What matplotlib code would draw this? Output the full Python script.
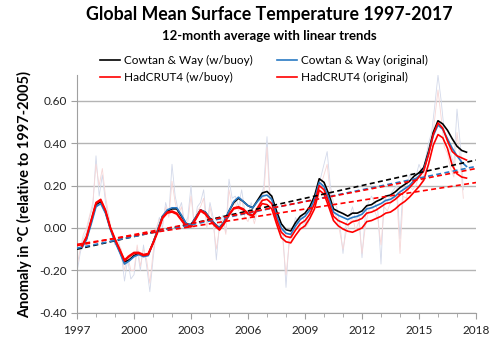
import matplotlib
matplotlib.use("Agg")
import matplotlib.pyplot as plt
from matplotlib.ticker import FormatStrFormatter, MultipleLocator
import numpy as np

plt.rcParams['font.family'] = ['Lato', 'DejaVu Sans']

# 12-month running means, every quarter from 1997.25
cw_buoy = [-0.09, -0.05, 0.03,
           0.11, 0.125, 0.075, 0.0,
           -0.06, -0.11, -0.16, -0.15,
           -0.13, -0.12, -0.13, -0.125,
           -0.07, -0.01, 0.055, 0.08,
           0.09, 0.09, 0.055, 0.02,
           0.015, 0.05, 0.085, 0.075,
           0.045, 0.02, 0.0, 0.03,
           0.08, 0.12, 0.14, 0.125,
           0.105, 0.095, 0.13, 0.165,
           0.172, 0.15, 0.08, 0.02,
           -0.008, -0.014, 0.025, 0.055,
           0.07, 0.10, 0.15, 0.232,
           0.215, 0.16, 0.09, 0.078,
           0.068, 0.056, 0.07, 0.07,
           0.08, 0.105, 0.11, 0.125,
           0.135, 0.15, 0.155, 0.17,
           0.19, 0.205, 0.22, 0.245,
           0.26, 0.285, 0.36, 0.45,
           0.505, 0.49, 0.46, 0.42,
           0.385, 0.365, 0.357]
cw_orig = [-0.095, -0.055, 0.02,
           0.10, 0.115, 0.07, -0.005,
           -0.065, -0.115, -0.17, -0.155,
           -0.135, -0.125, -0.135, -0.13,
           -0.07, -0.01, 0.055, 0.085,
           0.095, 0.095, 0.06, 0.02,
           0.015, 0.05, 0.085, 0.075,
           0.045, 0.02, 0.0, 0.03,
           0.08, 0.125, 0.145, 0.125,
           0.105, 0.095, 0.125, 0.15,
           0.155, 0.135, 0.06, 0.0,
           -0.025, -0.03, 0.01, 0.04,
           0.055, 0.085, 0.135, 0.215,
           0.195, 0.14, 0.075, 0.06,
           0.05, 0.04, 0.05, 0.055,
           0.065, 0.09, 0.095, 0.105,
           0.115, 0.13, 0.135, 0.15,
           0.17, 0.185, 0.20, 0.225,
           0.245, 0.275, 0.35, 0.435,
           0.485, 0.465, 0.42, 0.375,
           0.34, 0.31, 0.29]
had_buoy = [-0.085, -0.04, 0.04,
            0.12, 0.135, 0.085, 0.005,
            -0.05, -0.10, -0.15, -0.13,
            -0.115, -0.115, -0.125, -0.12,
            -0.07, -0.015, 0.05, 0.075,
            0.08, 0.07, 0.04, 0.01,
            0.01, 0.045, 0.085, 0.07,
            0.04, 0.015, -0.005, 0.025,
            0.065, 0.095, 0.10, 0.09,
            0.07, 0.06, 0.095, 0.13,
            0.135, 0.115, 0.04, -0.02,
            -0.04, -0.045, -0.01, 0.02,
            0.035, 0.065, 0.115, 0.20,
            0.18, 0.12, 0.055, 0.035,
            0.025, 0.015, 0.03, 0.035,
            0.045, 0.07, 0.075, 0.085,
            0.10, 0.115, 0.12, 0.135,
            0.155, 0.17, 0.19, 0.215,
            0.24, 0.27, 0.345, 0.44,
            0.495, 0.47, 0.41, 0.36,
            0.34, 0.33, 0.32]
had_orig = [-0.09, -0.045, 0.035,
            0.115, 0.13, 0.08, 0.0,
            -0.055, -0.105, -0.155, -0.135,
            -0.12, -0.12, -0.13, -0.125,
            -0.075, -0.02, 0.045, 0.07,
            0.075, 0.065, 0.035, 0.005,
            0.005, 0.04, 0.08, 0.065,
            0.035, 0.01, -0.01, 0.02,
            0.06, 0.09, 0.095, 0.085,
            0.065, 0.055, 0.085, 0.115,
            0.11, 0.09, 0.02, -0.045,
            -0.065, -0.07, -0.035, -0.005,
            0.01, 0.045, 0.09, 0.178,
            0.16, 0.10, 0.035, 0.01,
            -0.005, -0.015, -0.02, -0.01,
            0.0, 0.03, 0.035, 0.045,
            0.055, 0.07, 0.075, 0.09,
            0.11, 0.125, 0.145, 0.17,
            0.195, 0.225, 0.30, 0.39,
            0.44, 0.425, 0.375, 0.295,
            0.255, 0.24, 0.235]

# faint raw series, one value every two months from 1997.0
cw_raw = [-0.21, -0.12, -0.05, -0.02, 0.05, 0.10,
          0.34, 0.15, 0.25, 0.12, 0.05, -0.03,
          -0.08, -0.05, -0.12, -0.25, -0.15, -0.24,
          -0.22, -0.10, -0.20, -0.08, -0.18, -0.30,
          -0.15, -0.02, 0.05, 0.00, 0.12, 0.06,
          0.30, 0.15, 0.08, 0.12, 0.02, 0.05,
          0.20, 0.00, 0.10, 0.12, 0.18, 0.02,
          0.12, 0.05, -0.15, 0.02, 0.06, -0.02,
          0.23, 0.14, 0.15, 0.10, 0.18, 0.08,
          0.06, 0.12, 0.04, 0.10, 0.13, 0.20,
          0.43, 0.14, 0.12, 0.05, 0.02, -0.02,
          -0.28, -0.05, -0.02, 0.05, 0.02, 0.06,
          0.02, 0.05, 0.12, 0.15, 0.20, 0.24,
          0.30, 0.36, 0.20, 0.12, 0.10, 0.02,
          -0.12, 0.02, 0.05, 0.10, 0.03, 0.07,
          -0.14, 0.05, 0.12, 0.15, 0.12, 0.08,
          -0.17, 0.15, 0.12, 0.16, 0.18, 0.20,
          -0.05, 0.20, 0.18, 0.25, 0.22, 0.24,
          0.30, 0.26, 0.32, 0.40, 0.45, 0.58,
          0.72, 0.60, 0.45, 0.42, 0.35, 0.30,
          0.56, 0.40, 0.18]
had_raw = [-0.18, -0.10, -0.03, 0.00, 0.06, 0.12,
           0.30, 0.20, 0.28, 0.15, 0.06, -0.02,
           -0.06, -0.08, -0.10, -0.20, -0.13, -0.20,
           -0.20, -0.08, -0.18, -0.10, -0.15, -0.26,
           -0.12, 0.00, 0.04, 0.02, 0.10, 0.05,
           0.22, 0.12, 0.06, 0.10, 0.00, 0.03,
           0.15, 0.02, 0.08, 0.10, 0.14, 0.00,
           0.10, 0.02, -0.10, 0.00, 0.04, -0.03,
           0.18, 0.10, 0.12, 0.08, 0.14, 0.05,
           0.03, 0.08, 0.02, 0.08, 0.10, 0.16,
           0.38, 0.10, 0.08, 0.02, -0.02, -0.06,
           -0.22, -0.08, -0.05, 0.02, -0.01, 0.03,
           0.00, 0.02, 0.08, 0.12, 0.16, 0.20,
           0.25, 0.30, 0.16, 0.08, 0.05, -0.02,
           -0.10, -0.02, 0.02, 0.05, -0.01, 0.03,
           -0.12, 0.00, 0.08, 0.10, 0.08, 0.04,
           -0.08, 0.10, 0.08, 0.12, 0.14, 0.15,
           -0.12, 0.15, 0.14, 0.20, 0.18, 0.20,
           0.25, 0.22, 0.28, 0.36, 0.40, 0.52,
           0.65, 0.52, 0.38, 0.35, 0.28, 0.24,
           0.45, 0.32, 0.14]

# linear trends: value at 1997 and at 2018
trend_years = [1997, 2018]
trend_cw_buoy = [-0.10, 0.32]
trend_cw_orig = [-0.095, 0.29]
trend_had_buoy = [-0.083, 0.28]
trend_had_orig = [-0.077, 0.214]

labels = ["Cowtan & Way (w/buoy)", "Cowtan & Way (original)",
          "HadCRUT4 (w/buoy)", "HadCRUT4 (original)"]
colors = ["#000000", "#2a7ac4", "#ff0000", "#ff0000"]

t_smooth = 1997.25 + 0.25 * np.arange(len(cw_buoy))
t_raw = 1997.0 + np.arange(len(cw_raw)) / 6.0

fig = plt.figure(figsize=(5, 3.56), dpi=100)
ax = fig.add_axes([0.154, 0.121, 0.798, 0.668])

ax.plot(t_raw, cw_raw, color="#d3d9ea", lw=0.6, zorder=1)
ax.plot(t_raw, had_raw, color="#f7d6d6", lw=0.6, zorder=1)

series = [cw_buoy, cw_orig, had_buoy, had_orig]
lines = []
for s, c, lab in zip(series, colors, labels):
    ln, = ax.plot(t_smooth, s, color=c, lw=1.2, label=lab, zorder=3)
    lines.append(ln)

for tr, c in zip([trend_cw_buoy, trend_cw_orig, trend_had_buoy, trend_had_orig], colors):
    ax.plot(trend_years, tr, color=c, lw=1.2, dashes=(3, 2), zorder=4)

ax.set_xlim(1997, 2018)
ax.set_ylim(-0.4, 0.72)
ax.set_xticks(range(1997, 2019, 3))
ax.xaxis.set_minor_locator(MultipleLocator(1))
ax.set_yticks([-0.4, -0.2, 0.0, 0.2, 0.4, 0.6])
ax.yaxis.set_major_formatter(FormatStrFormatter('%.2f'))
ax.yaxis.grid(True, color="#b4b4b4", lw=1.0)
ax.set_axisbelow(True)

for sp in ["top", "right"]:
    ax.spines[sp].set_visible(False)
for sp in ["left", "bottom"]:
    ax.spines[sp].set_color("#a0a0a0")
ax.tick_params(axis="both", which="both", direction="out", color="#a0a0a0",
               labelsize=8.5, labelcolor="#222222")
ax.tick_params(axis="x", which="major", length=4, pad=5)
ax.tick_params(axis="x", which="minor", length=3)
ax.tick_params(axis="y", length=4)

ax.set_ylabel("Anomaly in °C (relative to 1997-2005)", fontsize=10.5,
              fontweight="bold", labelpad=5)

fig.text(0.539, 0.958, "Global Mean Surface Temperature 1997-2017",
         ha="center", va="center", fontsize=12.8, fontweight="bold")
fig.text(0.539, 0.900, "12-month average with linear trends",
         ha="center", va="center", fontsize=9.5, fontweight="bold")

fig.legend(handles=[lines[0], lines[2], lines[1], lines[3]],
           loc="center", bbox_to_anchor=(0.528, 0.805), ncol=2,
           frameon=False, fontsize=8.5, handlelength=1.7, handletextpad=0.35,
           columnspacing=2.0, labelspacing=0.5)

fig.savefig("out.png", dpi=100)
